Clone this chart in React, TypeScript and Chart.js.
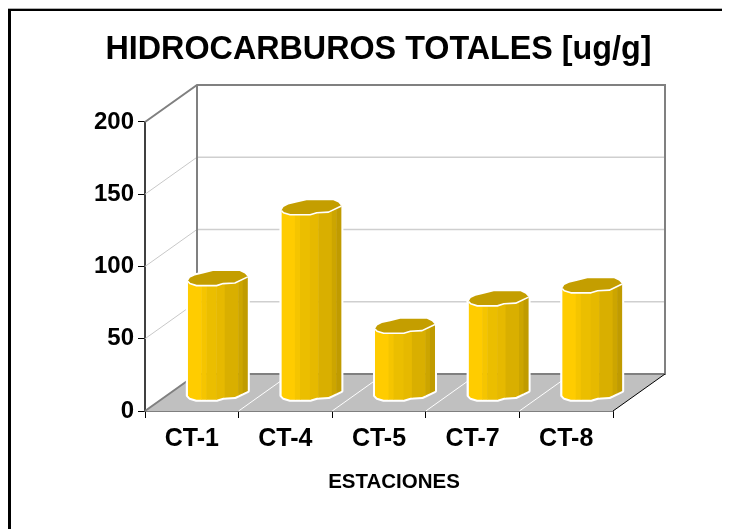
import React, { useEffect, useRef } from "react";
import { Chart, registerables } from "chart.js";

Chart.register(...registerables);

const categories = ["CT-1", "CT-4", "CT-5", "CT-7", "CT-8"];
const seriesValues = [79, 128, 46, 65, 74];
const yTicks = [0, 50, 100, 150, 200];
const titleText = "HIDROCARBUROS TOTALES [ug/g]";
const xTitleText = "ESTACIONES";

const DX = 52;
const DY = -37;
const FONT = "'Liberation Sans', Arial, sans-serif";
const RIM = 7.3;
const HALF = 30;
const rimFront: [number, number][] = [[-1, 0.4], [-0.93, 0.72], [-0.71, 1], [-0.04, 1], [0.18, 0.72], [0.57, 0.63], [1, -0.2]];
const rimBack: [number, number][] = [[0.9, -0.67], [0.73, -1], [-0.16, -1], [-0.49, -0.67], [-0.77, -0.4], [-0.93, -0.07]];
const facetEdges = [-1, -0.55, -0.38, -0.05, 0.23, 0.68, 0.83, 1];
const facetColors = ["#FFCC00", "#F5C500", "#EBBE00", "#E6B900", "#D9AF00", "#CCA500", "#C09B00"];

const framePlugin = {
  id: "frame3d",
  beforeDatasetsDraw(chart: any) {
    const { ctx, chartArea: a, scales } = chart;
    const y = scales.y;
    const top = y.getPixelForValue(200);
    const bot = y.getPixelForValue(0);
    ctx.save();
    // floor
    ctx.fillStyle = "#C0C0C0";
    ctx.beginPath();
    ctx.moveTo(a.left, bot);
    ctx.lineTo(a.left + DX, bot + DY);
    ctx.lineTo(a.right + DX, bot + DY);
    ctx.lineTo(a.right, bot);
    ctx.closePath();
    ctx.fill();
    // white floor lines at category boundaries
    ctx.strokeStyle = "#FFFFFF";
    ctx.lineWidth = 1;
    for (let i = 1; i < categories.length; i++) {
      const x = a.left + ((a.right - a.left) * i) / categories.length;
      ctx.beginPath();
      ctx.moveTo(x, bot);
      ctx.lineTo(x + DX, bot + DY);
      ctx.stroke();
    }
    // gridlines
    for (const v of yTicks) {
      if (v === 0 || v === 200) continue;
      const py = y.getPixelForValue(v);
      ctx.strokeStyle = "#C8C8C8";
      ctx.lineWidth = 1;
      ctx.beginPath();
      ctx.moveTo(a.left, py);
      ctx.lineTo(a.left + DX, py + DY);
      ctx.stroke();
      ctx.lineWidth = 1.5;
      ctx.strokeStyle = "#CFCFCF";
      ctx.beginPath();
      ctx.moveTo(a.left + DX, py + DY);
      ctx.lineTo(a.right + DX, py + DY);
      ctx.stroke();
    }
    // walls
    ctx.strokeStyle = "#808080";
    ctx.lineWidth = 2;
    ctx.beginPath();
    ctx.moveTo(a.left, top);
    ctx.lineTo(a.left + DX, top + DY);
    ctx.lineTo(a.right + DX, top + DY);
    ctx.lineTo(a.right + DX, bot + DY);
    ctx.lineTo(a.left + DX, bot + DY);
    ctx.lineTo(a.left + DX, top + DY);
    ctx.moveTo(a.left, bot);
    ctx.lineTo(a.left + DX, bot + DY);
    ctx.stroke();
    ctx.lineWidth = 1;
    ctx.strokeStyle = "#000000";
    ctx.beginPath();
    ctx.moveTo(a.right, bot);
    ctx.lineTo(a.right + DX, bot + DY);
    ctx.stroke();
    ctx.restore();
  },
  afterDatasetsDraw(chart: any) {
    const { ctx, scales } = chart;
    const meta = chart.getDatasetMeta(0);
    const y0 = scales.y.getPixelForValue(0) + DY / 2;
    ctx.save();
    meta.data.forEach((bar: any) => {
      const cx = bar.x + DX / 2;
      const ty = bar.y + DY / 2;
      const fx = (u: number) => cx + u * HALF;
      const bodyPath = () => {
        ctx.beginPath();
        ctx.moveTo(fx(rimFront[0][0]), ty + rimFront[0][1] * RIM);
        rimFront.forEach((p) => ctx.lineTo(fx(p[0]), y0 + p[1] * RIM));
        rimFront.slice().reverse().forEach((p) => ctx.lineTo(fx(p[0]), ty + p[1] * RIM));
        ctx.closePath();
      };
      const capPath = () => {
        ctx.beginPath();
        rimFront.forEach((p, i) => {
          if (i === 0) ctx.moveTo(fx(p[0]), ty + p[1] * RIM);
          else ctx.lineTo(fx(p[0]), ty + p[1] * RIM);
        });
        rimBack.forEach((p) => ctx.lineTo(fx(p[0]), ty + p[1] * RIM));
        ctx.closePath();
      };
      // white halo
      ctx.strokeStyle = "#FFFFFF";
      ctx.lineWidth = 4;
      ctx.lineJoin = "round";
      bodyPath();
      ctx.stroke();
      capPath();
      ctx.stroke();
      // body facets
      ctx.save();
      bodyPath();
      ctx.clip();
      facetColors.forEach((c, i) => {
        ctx.fillStyle = c;
        ctx.fillRect(fx(facetEdges[i]), ty - 2 * RIM, fx(facetEdges[i + 1]) - fx(facetEdges[i]) + 0.5, y0 - ty + 4 * RIM);
      });
      ctx.restore();
      // top cap
      capPath();
      ctx.fillStyle = "#C49E00";
      ctx.fill();
      // white rim line
      ctx.beginPath();
      rimFront.forEach((p, i) => {
        if (i === 0) ctx.moveTo(fx(p[0]), ty + p[1] * RIM);
        else ctx.lineTo(fx(p[0]), ty + p[1] * RIM);
      });
      ctx.strokeStyle = "#FFFFFF";
      ctx.lineWidth = 1.6;
      ctx.stroke();
    });
    // category-axis title
    ctx.fillStyle = "#000000";
    ctx.font = `bold 20.5px ${FONT}`;
    ctx.textAlign = "center";
    ctx.textBaseline = "middle";
    ctx.fillText(xTitleText, 383, 471);
    ctx.restore();
  },
};

export default function App() {
  const ref = useRef<HTMLCanvasElement>(null);
  useEffect(() => {
    document.documentElement.style.overflow = "hidden";
    const chart = new Chart(ref.current as HTMLCanvasElement, {
      type: "bar",
      data: {
        labels: categories,
        datasets: [{ data: seriesValues, backgroundColor: "rgba(0,0,0,0)", borderWidth: 0 }],
      },
      options: {
        animation: false,
        responsive: false,
        maintainAspectRatio: false,
        layout: { padding: { left: 16, right: 0, top: 0, bottom: 0 } },
        plugins: {
          legend: { display: false },
          tooltip: { enabled: false },
          title: {
            display: true,
            text: titleText,
            color: "#000000",
            font: { family: FONT, size: 32.3, weight: "bold" },
            padding: { top: 19.5, bottom: 52.7 },
          },
        },
        scales: {
          x: {
            grid: { display: true, drawOnChartArea: false, drawTicks: true, tickLength: 7, tickColor: "#000000", offset: true },
            border: { display: true, color: "#000000", width: 1.5 },
            afterFit: (s: any) => { s.height = 118; s.paddingRight = 117; s.paddingLeft = 0; },
            ticks: { color: "#000000", padding: 6, maxRotation: 0, font: { family: FONT, size: 25, weight: "bold" } },
          },
          y: {
            min: 0,
            max: 200,
            afterFit: (s: any) => { s.width = 118; },
            afterBuildTicks: (s: any) => { s.ticks = yTicks.map((value) => ({ value })); },
            grid: { display: true, drawOnChartArea: false, drawTicks: true, tickLength: 7, tickColor: "#000000" },
            border: { display: true, color: "#404040", width: 2 },
            ticks: { color: "#000000", padding: 4, font: { family: FONT, size: 24, weight: "bold" } },
          },
        },
      },
      plugins: [framePlugin],
    } as any);
    return () => chart.destroy();
  }, []);
  return (
    <div
      style={{
        width: 730,
        height: 520,
        marginTop: 1,
        borderTop: "2px solid #000",
        borderLeft: "3px solid #000",
        boxShadow: "0 -1px 0 #B0B0B0",
        boxSizing: "border-box",
      }}
    >
      <canvas ref={ref} width={719} height={518} style={{ display: "block" }} />
    </div>
  );
}
